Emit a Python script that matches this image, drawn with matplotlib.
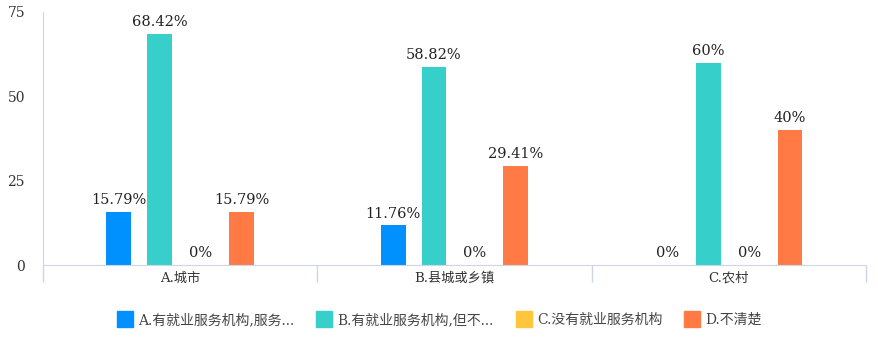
import numpy as np

import matplotlib
matplotlib.use("Agg")
import matplotlib.pyplot as plt
from matplotlib.lines import Line2D


# -----------------------------------------------------------------------------
# Data
# -----------------------------------------------------------------------------

categories = ["A.城市", "B.县城或乡镇", "C.农村"]

series_names = [
    "A.有就业服务机构,服务...",
    "B.有就业服务机构,但不...",
    "C.没有就业服务机构",
    "D.不清楚",
]

values_a = [15.79, 11.76, 0]
values_b = [68.42, 58.82, 60]
values_c = [0, 0, 0]
values_d = [15.79, 29.41, 40]

series_values = [values_a, values_b, values_c, values_d]

colors = ["#0091FF", "#36CFC9", "#FFC53D", "#FF7A45"]

y_ticks = [0, 25, 50, 75]


# -----------------------------------------------------------------------------
# Plot
# -----------------------------------------------------------------------------

fonts = ["DejaVu Serif", "Noto Sans CJK SC"]
plt.rcParams["font.family"] = fonts

text_color = "#333333"
axis_color = "#CCD6EB"

fig = plt.figure(figsize=(8.79, 3.52), dpi=100)
ax = fig.add_axes([0.049, 0.247, 0.936, 0.719])

x = np.arange(len(categories))
step = 41 / 275
width = 25 / 275

for i, (name, vals) in enumerate(zip(series_names, series_values)):
    pos = x + (i - 1.5) * step
    ax.bar(pos, vals, width=width, color=colors[i], label=name, zorder=2)
    for px, v in zip(pos, vals):
        label = "{:g}%".format(v)
        ax.annotate(label, (px, v), xytext=(0, 3.5), textcoords="offset points",
                    ha="center", va="bottom", fontsize=10.5, color="#222222")

ax.set_xlim(-0.5, len(categories) - 0.5)
ax.set_ylim(0, 75)
ax.set_yticks(y_ticks)
ax.tick_params(axis="y", length=0, pad=13, labelsize=10, labelcolor=text_color)

# category boundaries as ticks, labels in the middle
ax.set_xticks(np.arange(len(categories) + 1) - 0.5)
ax.set_xticklabels([])
ax.set_xticks(x, minor=True)
ax.set_xticklabels(categories, minor=True, fontsize=9.5, color=text_color)
ax.tick_params(axis="x", which="major", length=12, color=axis_color, width=1)
ax.tick_params(axis="x", which="minor", length=0, pad=5)

for side in ["top", "right"]:
    ax.spines[side].set_visible(False)
ax.spines["left"].set_color(axis_color)
ax.spines["bottom"].set_color(axis_color)

handles = [Line2D([], [], marker="s", linestyle="none", markersize=11,
                  markerfacecolor=c, markeredgecolor=c) for c in colors]
fig.legend(handles, series_names, loc="center", bbox_to_anchor=(0.5, 0.091),
           ncol=4, frameon=False, fontsize=10, handletextpad=0.4,
           handlelength=1.1, columnspacing=1.6, labelcolor="#444444",
           borderaxespad=0, borderpad=0)

fig.savefig("out.png", dpi=100)
